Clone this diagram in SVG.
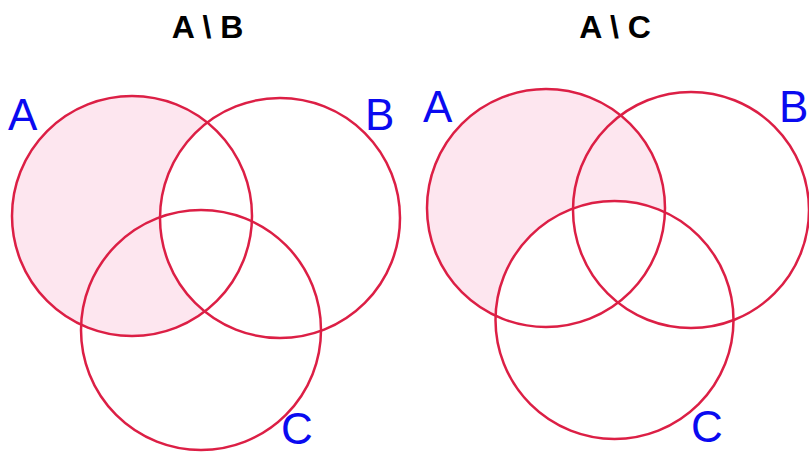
<svg xmlns="http://www.w3.org/2000/svg" width="809" height="454" viewBox="0 0 809 454">
<style>
.ring{fill:none;stroke:#dc1f45;stroke-width:2.5}
.shade{fill:#fde6ef}
.lbl{font-family:"Liberation Sans",Arial,sans-serif;font-size:44px;fill:#0a0af0}
.title{font-family:"Liberation Sans",Arial,sans-serif;font-size:32px;font-weight:bold;fill:#000;text-anchor:middle}
</style>
<defs>
<mask id="mAB" maskUnits="userSpaceOnUse" x="0" y="0" width="809" height="454">
<circle cx="132" cy="216" r="120" fill="#fff"/>
<circle cx="280" cy="218" r="120" fill="#000"/>
</mask>
<mask id="mAC" maskUnits="userSpaceOnUse" x="0" y="0" width="809" height="454">
<circle cx="546" cy="208" r="119" fill="#fff"/>
<circle cx="614.5" cy="320" r="119" fill="#000"/>
</mask>
</defs>
<rect width="809" height="454" fill="#fff"/>
<text class="title" x="207.5" y="38">A \ B</text>
<text class="title" x="615" y="38">A \ C</text>
<g id="left-diagram">
<rect class="shade" x="0" y="0" width="420" height="454" mask="url(#mAB)"/>
<g id="L-A"><circle class="ring" cx="132" cy="216" r="120"/><text class="lbl" x="8" y="130">A</text></g>
<g id="L-B"><circle class="ring" cx="280" cy="218" r="120"/><text class="lbl" x="365" y="130">B</text></g>
<g id="L-C"><circle class="ring" cx="201" cy="330" r="120"/><text class="lbl" x="281" y="444">C</text></g>
</g>
<g id="right-diagram">
<rect class="shade" x="400" y="0" width="409" height="454" mask="url(#mAC)"/>
<g id="R-A"><circle class="ring" cx="546" cy="208" r="119"/><text class="lbl" x="423" y="122">A</text></g>
<g id="R-B"><circle class="ring" cx="691" cy="210" r="118"/><text class="lbl" x="779" y="122">B</text></g>
<g id="R-C"><circle class="ring" cx="614.5" cy="320" r="119"/><text class="lbl" x="691" y="442">C</text></g>
</g>
</svg>
